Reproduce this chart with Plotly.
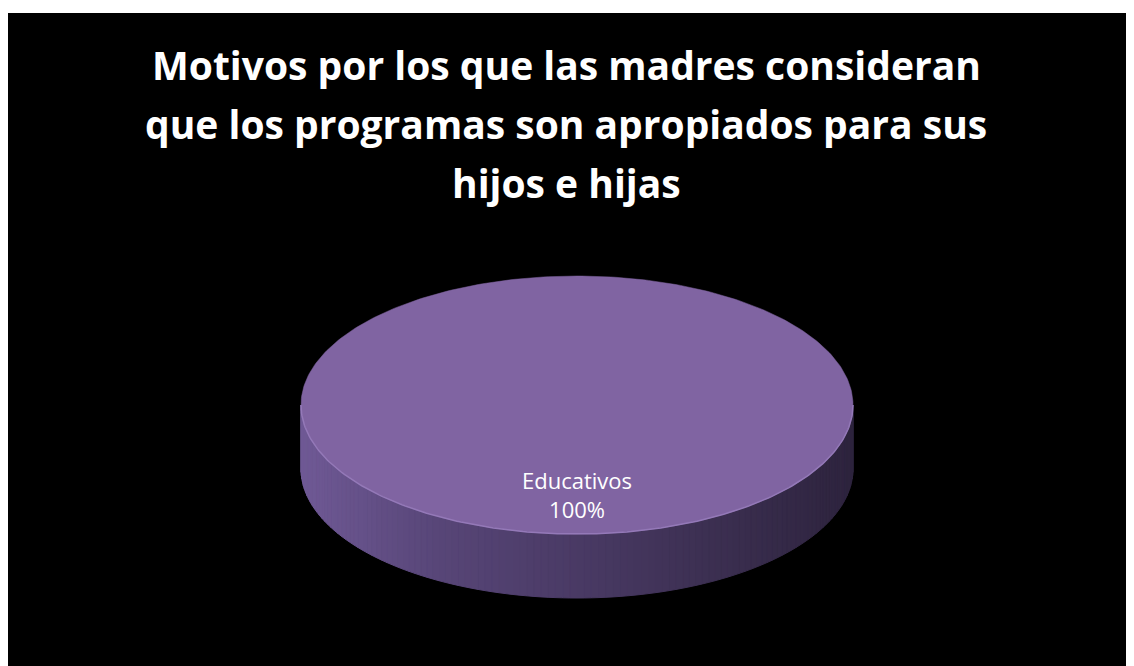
import numpy as np
import plotly.graph_objects as go

# ---- data ----
categories = ["Educativos"]
values = [100]
title_lines = [
    "Motivos por los que las madres consideran",
    "que los programas son apropiados para sus",
    "hijos e hijas",
]
top_color = "#8064A2"

# page is drawn with an 8px body margin, so the figure spans page px 8..1134
OFF = 8
W, H = 1134 - OFF, 666 - OFF
cx, cy = 577, 405       # ellipse centre (page px)
a, b = 276, 129         # semi-axes
depth = 64              # pie thickness

def pt(theta_deg, dy=0.0):
    t = np.radians(theta_deg)
    return cx + a * np.sin(t), cy - b * np.cos(t) + dy

def side_color(x):
    f = (x - (cx - a)) / (2 * a)
    f = min(max(f, 0), 1)
    c0 = np.array([112, 90, 150])
    c1 = np.array([88, 70, 120])
    c2 = np.array([46, 36, 62])
    if f < 0.25:
        c = c0 + (c1 - c0) * (f / 0.25)
    else:
        c = c1 + (c2 - c1) * ((f - 0.25) / 0.75)
    return "rgb(%d,%d,%d)" % tuple(c.astype(int))

fig = go.Figure()

total = sum(values)
start = 0.0
slices = []
for cat, v in zip(categories, values):
    sweep = 360.0 * v / total
    slices.append((cat, v, start, start + sweep))
    start += sweep

# side (front half, 90..270 deg clockwise from top)
for cat, v, s, e in slices:
    lo, hi = max(s, 90), min(e, 270)
    if hi <= lo:
        continue
    n = 120
    edges = np.linspace(lo, hi, n + 1)
    for i in range(n):
        t0, t1 = edges[i], edges[i + 1]
        x0, y0 = pt(t0)
        x1, y1 = pt(t1)
        xs = [x0, x1, x1, x0, x0]
        ys = [y0, y1, y1 + depth, y0 + depth, y0]
        col = side_color((x0 + x1) / 2)
        fig.add_trace(go.Scatter(x=xs, y=ys, fill="toself", fillcolor=col,
                                 mode="lines", line=dict(color=col, width=1),
                                 hoverinfo="skip", showlegend=False))

# top faces
for cat, v, s, e in slices:
    th = np.linspace(s, e, 361)
    xs, ys = pt(th)
    xs = np.concatenate([[cx], xs, [cx]])
    ys = np.concatenate([[cy], ys, [cy]])
    fig.add_trace(go.Scatter(x=xs, y=ys, fill="toself", fillcolor=top_color,
                             mode="lines", line=dict(color=top_color, width=0.5),
                             hoverinfo="skip", showlegend=False))
    th2 = np.linspace(max(s, 90), min(e, 270), 200)
    rx, ry = pt(th2)
    fig.add_trace(go.Scatter(x=rx, y=ry, mode="lines",
                             line=dict(color="#9479b8", width=1.5),
                             hoverinfo="skip", showlegend=False))

# data labels
annotations = []
for cat, v, s, e in slices:
    mid = (s + e) / 2
    lx = cx + 0.69 * a * np.sin(np.radians(mid))
    ly = cy - 0.69 * b * np.cos(np.radians(mid))
    annotations.append(dict(x=lx, y=ly, xref="x", yref="y",
                            text="%s<br>%d%%" % (cat, round(100 * v / total)),
                            showarrow=False, align="center",
                            font=dict(family="Open Sans", size=22, color="white")))

title_y = [64, 123, 182]
for txt, ty in zip(title_lines, title_y):
    annotations.append(dict(x=566, y=ty, xref="x", yref="y", text="<b>%s</b>" % txt,
                            showarrow=False, align="center",
                            font=dict(family="Open Sans", size=39, color="white")))

fig.update_layout(
    width=W, height=H,
    margin=dict(l=0, r=0, t=0, b=0),
    paper_bgcolor="white",
    plot_bgcolor="rgba(0,0,0,0)",
    xaxis=dict(range=[OFF, 1134], visible=False, fixedrange=True),
    yaxis=dict(range=[666, OFF], visible=False, fixedrange=True),
    shapes=[dict(type="rect", xref="paper", yref="paper", x0=0, x1=1, y0=0,
                 y1=1 - 5 / H, fillcolor="black", line=dict(width=0), layer="below")],
    annotations=annotations,
    showlegend=False,
)

fig.write_html("out.html")
